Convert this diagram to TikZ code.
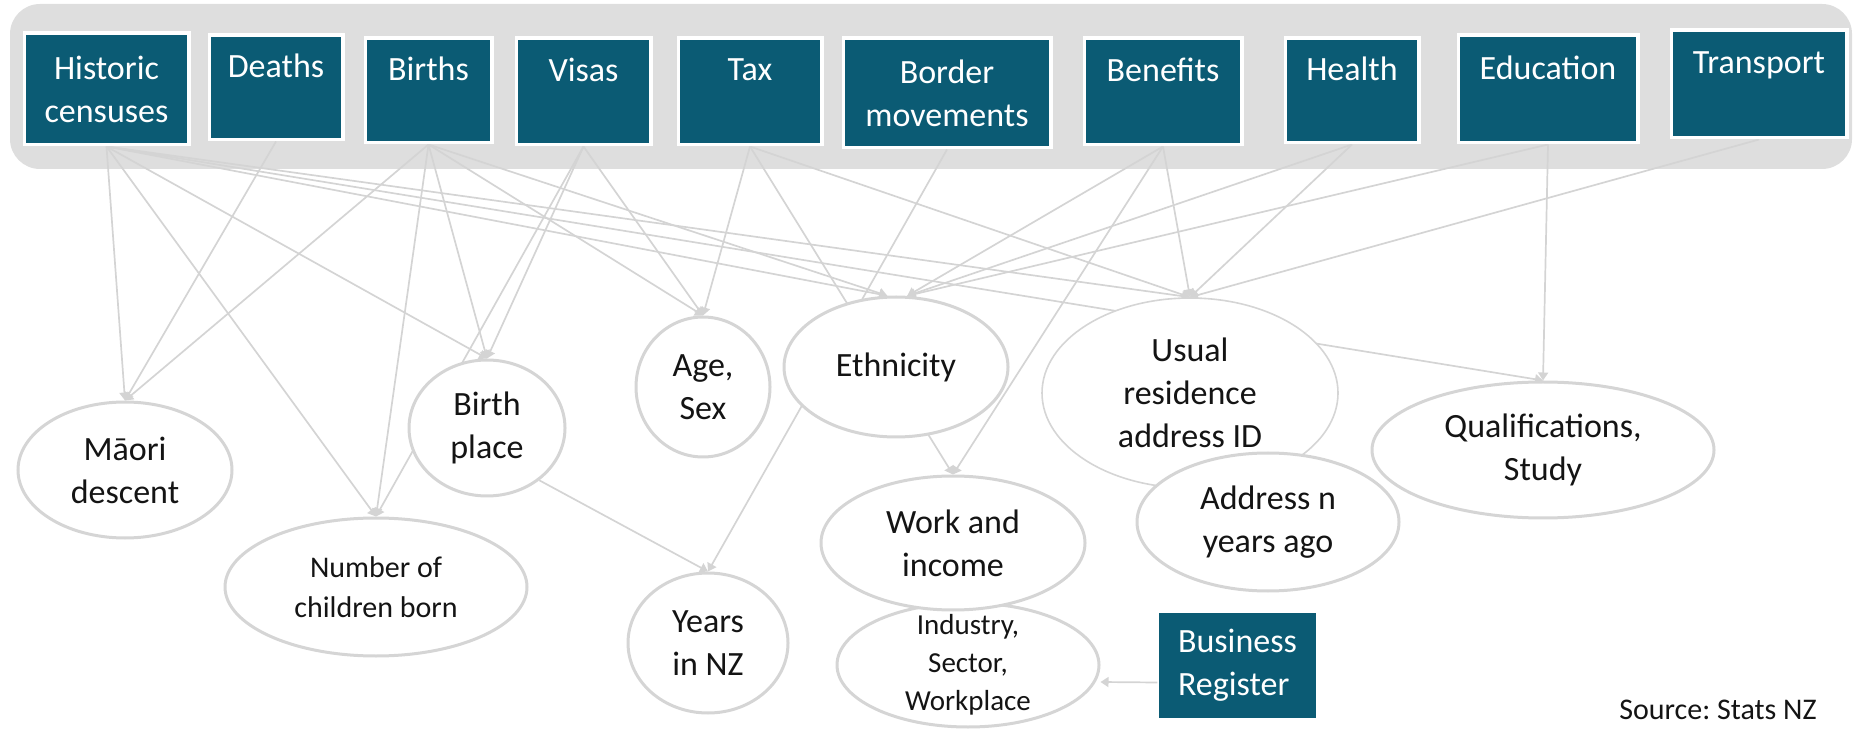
\documentclass[tikz,border=0pt]{standalone}
\usepackage{fontspec}
\setmainfont{Carlito}
\usetikzlibrary{shapes.geometric,arrows.meta,backgrounds}
\definecolor{boxTeal}{RGB}{11,91,116}
\definecolor{bandGrey}{RGB}{222,222,222}
\definecolor{edgeGrey}{RGB}{212,212,212}
\definecolor{ringGrey}{RGB}{213,213,213}
\definecolor{inkGrey}{RGB}{20,20,20}
\frenchspacing

\begin{document}
\begin{tikzpicture}
[x=0.5pt,y=-0.5pt,
  boxDecorate/.style={shape=rectangle,inner sep=0pt,fill=boxTeal,draw=white,line width=1.75pt,text=white,align=center,font=\fontsize{17}{21.5}\selectfont},%
  ellDecorate/.style={shape=ellipse,inner sep=-6pt,fill=white,draw=ringGrey,align=center,text=inkGrey},%
  lineDecorate/.style={-{Triangle[length=4pt,width=5pt]},draw=edgeGrey,line width=0.85pt}]
\useasboundingbox (0,0) rectangle (1862,731);
%% grey band behind the sources
\begin{scope}[on background layer]
  \fill[bandGrey,rounded corners=15pt] (10,4) rectangle (1852,169);
\end{scope}
%% source boxes
\foreach \nodename/\x/\y/\w/\h/\txt in {
  hist/106.5/89/161/108/{Historic\\censuses},
  death/276/87.5/130/101/{Deaths\\~},
  birth/428.5/90.5/123/101/{Births\\~},
  visa/583.5/91.5/131/103/{Visas\\~},
  tax/750/91.5/140/103/{Tax\\~},
  border/947/93/204/106/{Border\\movements},
  benef/1163/91.5/154/103/{Benefits\\~},
  health/1352/90.5/130/101/{Health\\~},
  educ/1548/89/176/104/{Education\\~},
  transp/1759/84/172/104/{Transport\\~}}
{
  \node (\nodename) at (\x,\y) [boxDecorate,minimum width={(\w+3.5)*0.5pt},minimum height={(\h+3.5)*0.5pt}] {\txt};
}
%% variables (ellipses)
\foreach \nodename/\x/\y/\rx/\ry/\fs/\bs/\lw/\txt in {
  maori/125/470/107/68/17/21.5/1.5/{Māori\\descent},
  nchild/376/587/151/69/15/20/1.5/{Number of\\children born},
  bplace/487/428/78/68/17/21.5/1.5/{Birth\\place},
  agesex/703/387/67/70/17/21.5/1.5/{Age,\\Sex},
  ethn/896/367/112/70/17/21.5/1.5/{Ethnicity},
  usual/1190/393/148/95/17/21.5/0.8/{Usual\\residence\\address ID},
  addr/1268/522/131/69/17/21.5/1.5/{Address n\\years ago},
  qual/1543/450/171/68/17/21.5/1.5/{Qualifications,\\Study},
  years/708/643/80/70/17/21.5/1.5/{Years\\in NZ},
  indus/968/665/131/62/14.5/19/1.5/{Industry,\\Sector,\\Workplace},
  work/953/543/132/67/17/21.5/1.5/{Work and\\income}}
{
  \node (\nodename) at (\x,\y) [ellDecorate,line width=\lw pt,font=\fontsize{\fs}{\bs}\selectfont,minimum width=\rx pt,minimum height=\ry pt] {\txt};
}
\node (biz) at (1237.5,665.5) [boxDecorate,draw=none,align=left,minimum width=78.5pt,minimum height=52.5pt] {Business\\Register};
\node (src) at (1817,710) [anchor=east,inner sep=0pt,text=inkGrey,font=\fontsize{15}{18}\selectfont] {Source: Stats NZ};
%% edges or lines
\begin{scope}[on background layer]
\path
\foreach \startnode/\endnode in {
  hist.south/maori.north, hist.south/nchild.north, hist.south/bplace.north,
  hist.south/ethn.97, hist.south/usual.north, hist.south/qual.north,
  death.south/maori.north,
  birth.south/maori.north, birth.south/nchild.north, birth.south/bplace.north,
  birth.south/agesex.north, birth.south/ethn.97,
  visa.south/bplace.north, visa.south/nchild.north, visa.south/agesex.north,
  tax.south/agesex.north, tax.south/work.north, tax.south/usual.north,
  border.south/years.north,
  benef.south/ethn.81, benef.south/work.north, benef.south/usual.north,
  health.south/ethn.81, health.south/usual.north,
  educ.south/ethn.81, educ.south/qual.north,
  transp.south/usual.north,
  bplace.-45/years.north}
{
  (\startnode) edge[lineDecorate] (\endnode)
};
\draw[lineDecorate] ([yshift=-8.5pt]biz.west) -- ([yshift=-8.5pt]indus.east);
\end{scope}
\end{tikzpicture}
\end{document}
